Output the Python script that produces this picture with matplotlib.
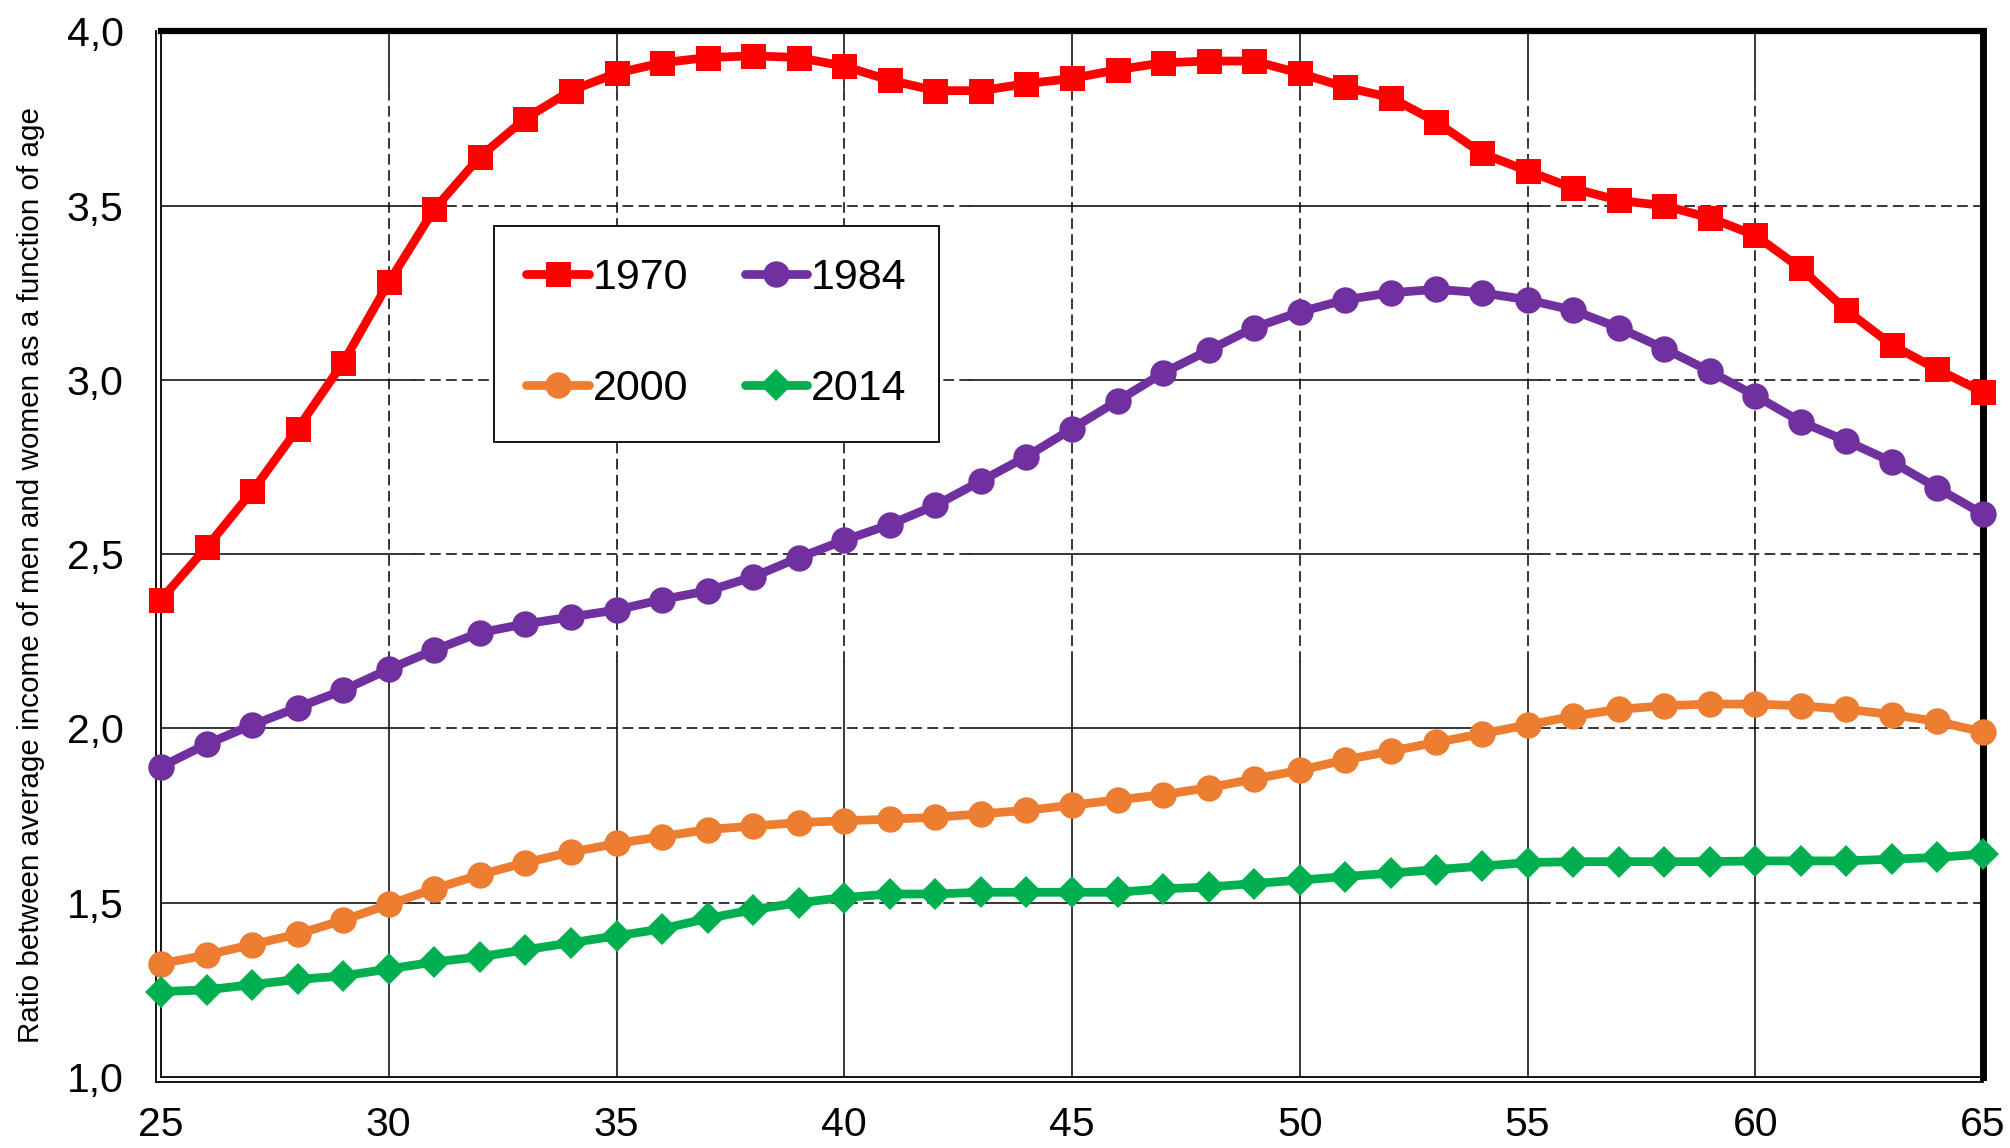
import matplotlib
matplotlib.use("Agg")
import matplotlib.pyplot as plt
from matplotlib.lines import Line2D
from matplotlib.transforms import offset_copy

plt.rcParams['font.family'] = ['Liberation Sans', 'DejaVu Sans']

# ---------------- data ----------------
ages = list(range(25, 66))

r1970 = [2.37, 2.52, 2.68, 2.86, 3.05, 3.28, 3.49, 3.64, 3.75, 3.83,
         3.88, 3.91, 3.925, 3.93, 3.925, 3.90, 3.86, 3.83, 3.83, 3.85,
         3.865, 3.89, 3.91, 3.915, 3.915, 3.88, 3.84, 3.81, 3.74, 3.65,
         3.60, 3.55, 3.515, 3.50, 3.465, 3.415, 3.32, 3.20, 3.10, 3.03, 2.965]

r1984 = [1.89, 1.955, 2.01, 2.06, 2.11, 2.17, 2.225, 2.275, 2.30, 2.32,
         2.34, 2.37, 2.395, 2.435, 2.49, 2.54, 2.585, 2.64, 2.71, 2.78,
         2.86, 2.94, 3.02, 3.085, 3.15, 3.195, 3.23, 3.25, 3.26, 3.25,
         3.23, 3.20, 3.15, 3.09, 3.025, 2.955, 2.88, 2.825, 2.765, 2.69, 2.615]

r2000 = [1.325, 1.35, 1.38, 1.41, 1.45, 1.495, 1.54, 1.58, 1.615, 1.645,
         1.67, 1.69, 1.71, 1.72, 1.73, 1.735, 1.74, 1.745, 1.755, 1.765,
         1.78, 1.795, 1.81, 1.83, 1.855, 1.88, 1.91, 1.935, 1.96, 1.985,
         2.01, 2.035, 2.055, 2.065, 2.07, 2.07, 2.065, 2.055, 2.04, 2.02, 1.99]

r2014 = [1.245, 1.25, 1.265, 1.28, 1.29, 1.31, 1.33, 1.345, 1.365, 1.385,
         1.405, 1.425, 1.455, 1.48, 1.50, 1.515, 1.525, 1.525, 1.53, 1.53,
         1.53, 1.53, 1.54, 1.545, 1.555, 1.565, 1.575, 1.585, 1.595, 1.605,
         1.615, 1.618, 1.618, 1.618, 1.618, 1.62, 1.62, 1.62, 1.625, 1.63, 1.64]

series_labels = ["1970", "1984", "2000", "2014"]
x_ticks = [25, 30, 35, 40, 45, 50, 55, 60, 65]
y_ticks = [1.0, 1.5, 2.0, 2.5, 3.0, 3.5, 4.0]
y_tick_labels = ["1,0", "1,5", "2,0", "2,5", "3,0", "3,5", "4,0"]
y_label = "Ratio between average income of men and women as a function of age"

# ---------------- figure ----------------
W, H = 2010, 1148
fig = plt.figure(figsize=(W / 100, H / 100), dpi=100)
ax = fig.add_axes([161 / W, 1 - 1077 / H, (1983 - 161) / W, (1077 - 31.4) / H])

ax.set_xlim(25, 65)
ax.set_ylim(1.0, 4.0)

# grid lines (mixed solid / dashed segments as in the reference)
gkw = dict(color='black', lw=1.1, zorder=1)
dash = (0, (7, 3.5))
h_segments = [(0.0, 0.139, '-'), (0.139, 0.444, dash), (0.444, 0.757, '-'), (0.757, 1.0, dash)]
v_segments = [(0.0, 0.397, '-'), (0.397, 0.945, dash), (0.945, 1.0, '-')]
for yv in y_ticks[1:-1]:
    for a, b, ls in h_segments:
        ax.axhline(yv, a, b, ls=ls, **gkw)
for xv in x_ticks[1:-1]:
    for a, b, ls in v_segments:
        ax.axvline(xv, a, b, ls=ls, **gkw)

lw = 6.3
styles = [
    (r1970, '#FF0000', 's', 18),
    (r1984, '#7030A0', 'o', 19),
    (r2000, '#ED7D31', 'o', 19),
    (r2014, '#00B050', 'D', 16),
]
handles = []
for (vals, col, mk, ms), lab in zip(styles, series_labels):
    h, = ax.plot(ages, vals, color=col, lw=lw, marker=mk, ms=ms,
                 markeredgewidth=0, label=lab, zorder=3, clip_on=False,
                 solid_capstyle='round')
    handles.append(h)

# ticks
ax.set_xticks(x_ticks)
ax.set_xticklabels([str(v) for v in x_ticks])
ax.set_yticks(y_ticks)
ax.set_yticklabels(y_tick_labels)
ax.tick_params(axis='both', length=0, labelsize=29.5)
ax.tick_params(axis='y', pad=27)
ax.tick_params(axis='x', pad=21)

# spines
ax.spines['top'].set_linewidth(4.5)
ax.spines['right'].set_linewidth(5)
ax.spines['left'].set_linewidth(1.3)
ax.spines['bottom'].set_linewidth(1.3)
for s in ax.spines.values():
    s.set_color('black')
    s.set_zorder(2.5)

# outer thin lines (double frame on left and bottom)
tl = offset_copy(ax.transAxes, fig=fig, x=-5, y=0, units='dots')
tb = offset_copy(ax.transAxes, fig=fig, x=0, y=-5, units='dots')
ax.add_line(Line2D([0, 0], [-0.005, 1.0], transform=tl, color='black', lw=1.3, clip_on=False))
ax.add_line(Line2D([-0.003, 1.0], [0, 0], transform=tb, color='black', lw=1.3, clip_on=False))

# y label
fig.text(31 / W, 1 - 575 / H, y_label, rotation=90, ha='center', va='center', fontsize=21.3)

# legend
order = [0, 2, 1, 3]
leg = ax.legend([handles[i] for i in order], [series_labels[i] for i in order],
                ncol=2, loc='upper left',
                bbox_to_anchor=((494 - 161) / (1983 - 161), (1077 - 226) / (1077 - 31.4)),
                borderaxespad=0, fontsize=31, frameon=True, fancybox=False,
                edgecolor='black', framealpha=1, handlelength=1.45,
                handletextpad=0.1, columnspacing=1.3, labelspacing=1.65,
                borderpad=0.75, markerscale=1.0)
leg.get_frame().set_linewidth(1.3)
leg.set_zorder(4)

fig.savefig("out.png", dpi=100)
